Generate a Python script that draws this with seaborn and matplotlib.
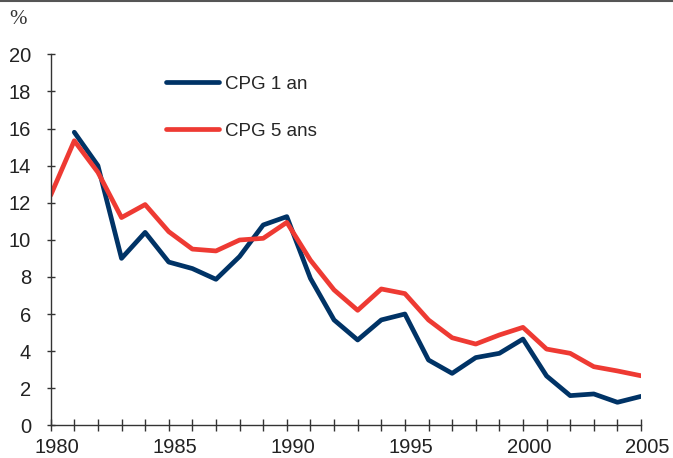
import numpy as np
import pandas as pd
import seaborn as sns
import matplotlib.pyplot as plt
from matplotlib.transforms import ScaledTranslation

# data
years = list(range(1980, 2006))
cpg_1an = [np.nan, 15.8, 14.0, 9.0, 10.4, 8.8, 8.45, 7.87, 9.1, 10.8, 11.25,
           7.92, 5.68, 4.6, 5.68, 6.0, 3.52, 2.8, 3.65, 3.88, 4.65,
           2.66, 1.6, 1.69, 1.24, 1.56]
cpg_5ans = [12.4, 15.34, 13.64, 11.2, 11.9, 10.44, 9.5, 9.4, 9.99, 10.08, 10.94,
            8.9, 7.3, 6.2, 7.35, 7.1, 5.68, 4.72, 4.38, 4.87, 5.28,
            4.11, 3.88, 3.16, 2.93, 2.67]
series_names = ["CPG 1 an", "CPG 5 ans"]
colors = ["#003366", "#ee3a33"]

df = pd.DataFrame({"year": years, series_names[0]: cpg_1an, series_names[1]: cpg_5ans})
long = df.melt(id_vars="year", var_name="serie", value_name="taux").dropna()

sns.set_style("ticks")
plt.rcParams["font.family"] = ["Liberation Sans", "DejaVu Sans"]

fig = plt.figure(figsize=(6.73, 4.58), dpi=100)
ax = fig.add_axes([0.0753, 0.0714, 0.8772, 0.81])

sns.lineplot(data=long, x="year", y="taux", hue="serie", hue_order=series_names,
             palette=colors, linewidth=3.4, ax=ax, legend=False)

ax.set_xlim(1980, 2005)
ax.set_ylim(0, 20)
ax.set_xticks(range(1980, 2006, 5))
ax.set_xticks(range(1980, 2006), minor=True)
ax.set_yticks(range(0, 21, 2))
ax.tick_params(axis="both", which="both", direction="inout", width=1,
               color="#333333", labelsize=14.5, labelcolor="#222222")
ax.tick_params(axis="x", which="both", length=9, pad=5)
ax.tick_params(axis="y", length=6, pad=11)
ax.set_xlabel("")
ax.set_ylabel("")
sns.despine(ax=ax)
for s in ["left", "bottom"]:
    ax.spines[s].set_color("#333333")
    ax.spines[s].set_linewidth(1)

# x labels sit a little right of their ticks in the source
shift = ScaledTranslation(6 / 100, 0, fig.dpi_scale_trans)
for lab in ax.get_xticklabels():
    lab.set_transform(lab.get_transform() + shift)

handles = [plt.Line2D([], [], color=c, linewidth=3.4) for c in colors]
ax.legend(handles, series_names, loc="upper left", bbox_to_anchor=(0.183, 0.963),
          frameon=False, fontsize=13.5,
          handlelength=2.8, handletextpad=0.35, labelspacing=1.6, borderaxespad=0)

fig.text(18 / 673, 1 - 19 / 458, "%", family="Liberation Serif", fontsize=15,
         color="#333333", ha="center", va="center")
fig.add_artist(plt.Line2D([0, 1], [0.998, 0.998], color="#555555", linewidth=1.5,
                          transform=fig.transFigure))

fig.savefig("out.png", dpi=100)
